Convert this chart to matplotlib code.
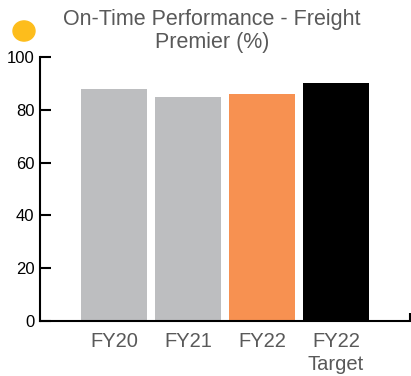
import matplotlib.pyplot as plt
from matplotlib.patches import Circle

plt.rcParams['font.family'] = ['Liberation Sans', 'DejaVu Sans']

categories = ['FY20', 'FY21', 'FY22', 'FY22\nTarget']
values = [88, 85, 86, 90]
colors = ['#BDBEC0', '#BDBEC0', '#F79151', '#000000']

fig = plt.figure(figsize=(4.11, 3.76), dpi=100)
ax = fig.add_axes([40 / 411, 55 / 376, 370 / 411, 264 / 376])

x = range(len(categories))
ax.bar(x, values, width=0.9, color=colors, zorder=2)

ax.set_xlim(-1, 4)
ax.set_ylim(0, 100)
ax.set_yticks([0, 20, 40, 60, 80, 100])
ax.tick_params(axis='y', direction='in', length=8, width=1.5, labelsize=12, pad=4)
ax.set_xticks(list(x))
ax.set_xticklabels(categories, fontsize=14.5, color='#595959', linespacing=1.25)
ax.tick_params(axis='x', length=0, pad=8)
ax.set_xticks([4], minor=True)
ax.tick_params(axis='x', which='minor', direction='in', length=6, width=1.5)

for side in ['top', 'right']:
    ax.spines[side].set_visible(False)
for side in ['left', 'bottom']:
    ax.spines[side].set_linewidth(1.5)

fig.text(212 / 411, 1 - 31 / 376, 'On-Time Performance - Freight\nPremier (%)',
         ha='center', va='center', fontsize=15.5, color='#595959', linespacing=1.1)

# yellow status dot
fig.patches.append(Circle((24 / 411, 1 - 31 / 376), 11 / 411, transform=fig.transFigure,
                          color='#FDBD1C'))

fig.savefig('out.png', dpi=100)
